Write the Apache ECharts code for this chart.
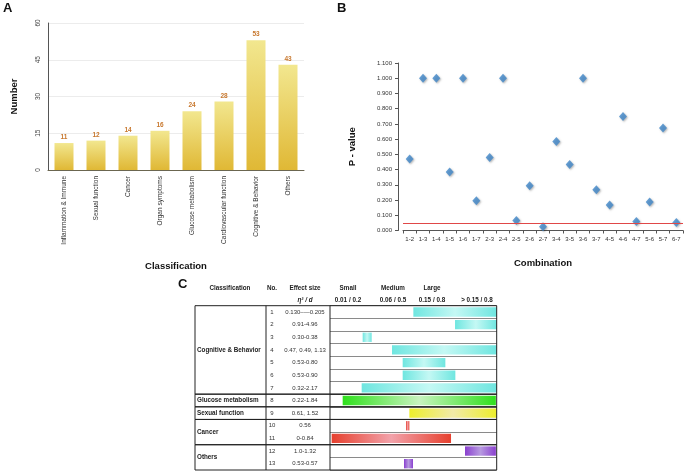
<!DOCTYPE html>
<html>
<head>
<meta charset="utf-8">
<script src="https://cdn.jsdelivr.net/npm/echarts@6/dist/echarts.min.js"></script>
<style>
  html, body { margin: 0; padding: 0; background: #fff; }
  #chart { width: 690px; height: 472px; }
</style>
</head>
<body>
<div id="chart"></div>
<script>
// A: number of studies per classification
const classNames = ["Inflammation & Immune", "Sexual function", "Cancer", "Organ symptoms",
  "Glucose metabolism", "Cardiovascular function", "Cognitive & Behavior", "Others"];
const classCounts = [11, 12, 14, 16, 24, 28, 53, 43];

// B: p-values per combination
const combos = ["1-2", "1-3", "1-4", "1-5", "1-6", "1-7", "2-3", "2-4", "2-5", "2-6", "2-7",
  "3-4", "3-5", "3-6", "3-7", "4-5", "4-6", "4-7", "5-6", "5-7", "6-7"];
const pValues = [0.47, 1.0, 1.0, 0.385, 1.0, 0.195, 0.48, 1.0, 0.066, 0.294, 0.024,
  0.585, 0.434, 1.0, 0.267, 0.167, 0.749, 0.059, 0.187, 0.673, 0.053];
const pTicks = ["0.000", "0.100", "0.200", "0.300", "0.400", "0.500", "0.600", "0.700", "0.800", "0.900", "1.000", "1.100"];

// C: effect size table
const rowNo = ["1", "2", "3", "4", "5", "6", "7", "8", "9", "10", "11", "12", "13"];
const effectSize = ["0.130–—0.205", "0.91-4.96", "0.30-0.38", "0.47, 0.49, 1.13", "0.53-0.80",
  "0.53-0.90", "0.32-2.17", "0.22-1.84", "0.61, 1.52", "0.56", "0-0.84", "1.0-1.32", "0.53-0.57"];
// bar extents on the table's effect-size scale (0..100)
const barStart = [50, 75, 19.6, 37.2, 43.6, 43.6, 19, 7.6, 47.6, 45.6, 1, 81, 44.4];
const barEnd = [100, 100, 25, 100, 69.2, 75.2, 100, 99.5, 100, 47.6, 72.6, 99.5, 49.8];
const barColor = [0, 0, 0, 0, 0, 0, 0, 1, 2, 3, 3, 4, 4];
const groupNames = ["Cognitive & Behavior", "Glucose metabolism", "Sexual function", "Cancer", "Others"];
const groupFirst = [0, 7, 8, 9, 11];
const groupLast = [6, 7, 8, 10, 12];

const palette = [
  ["#6fe6e0", "#c4f8f4"],
  ["#2fe01c", "#c8f3bf"],
  ["#ecee2c", "#f1eaa8"],
  ["#e6402e", "#f2a2aa"],
  ["#8a40cf", "#b79ae0"]
];

const FONT = "Liberation Sans, Arial, sans-serif";
const chart = echarts.init(document.getElementById("chart"));

function txt(x, y, text, size, bold, extra) {
  return Object.assign({
    type: "text", x: x, y: y,
    style: {
      text: text, fill: "#222", textAlign: "center", textVerticalAlign: "middle",
      align: "center", verticalAlign: "middle",
      font: (bold ? "bold " : "") + size + "px " + FONT
    }
  }, extra || {});
}

const option = {
  animation: false,
  textStyle: { fontFamily: FONT },
  grid: [
    { left: 48, top: 23, width: 256, height: 147 },
    { left: 403, top: 63, width: 280, height: 167.5 },
    { left: 330, top: 305.7, width: 166.7, height: 164.3 }
  ],
  xAxis: [
    {
      type: "category", gridIndex: 0, data: classNames,
      axisLine: { lineStyle: { color: "#6b6650", width: 1 } },
      axisTick: { show: false },
      axisLabel: { rotate: 90, interval: 0, fontSize: 6.5, color: "#333", margin: 6 },
      name: "Classification", nameLocation: "middle", nameGap: 91,
      nameTextStyle: { fontWeight: "bold", fontSize: 9.5, color: "#111" }
    },
    {
      type: "category", gridIndex: 1, data: combos,
      axisLine: { lineStyle: { color: "#555", width: 1 } },
      axisTick: { show: true, length: 3, lineStyle: { color: "#555" } },
      axisLabel: { interval: 0, fontSize: 6, color: "#333", margin: 6 },
      name: "Combination", nameLocation: "middle", nameGap: 28,
      nameTextStyle: { fontWeight: "bold", fontSize: 9.5, color: "#111" }
    },
    { type: "value", gridIndex: 2, min: 0, max: 100, show: false }
  ],
  yAxis: [
    {
      type: "value", gridIndex: 0, min: 0, max: 60, interval: 15,
      axisLine: { show: true, lineStyle: { color: "#555" } },
      axisTick: { show: false },
      axisLabel: { rotate: 90, fontSize: 6.5, color: "#444", margin: 6 },
      splitLine: { lineStyle: { color: "#ececec" } },
      name: "Number", nameLocation: "middle", nameGap: 29, nameRotate: 90,
      nameTextStyle: { fontWeight: "bold", fontSize: 9.5, color: "#111" }
    },
    {
      type: "value", gridIndex: 1, min: 0, max: 1.1, interval: 0.1, offset: 5,
      axisLine: { show: true, lineStyle: { color: "#555" } },
      axisTick: { show: true, length: 3, lineStyle: { color: "#555" } },
      axisLabel: { fontSize: 6, color: "#333", margin: 6,
        formatter: (v) => pTicks[Math.round(v * 10)] },
      splitLine: { show: false },
      name: "P - value", nameLocation: "middle", nameGap: 41, nameRotate: 90,
      nameTextStyle: { fontWeight: "bold", fontSize: 9.5, color: "#111" }
    },
    {
      type: "category", gridIndex: 2, data: rowNo, inverse: true, position: "left",
      axisLine: { show: false }, axisTick: { show: false },
      axisLabel: { fontSize: 6, color: "#333", margin: 58, align: "center" },
      splitLine: { show: true, lineStyle: { color: "#8a8a8a", width: 1.2 } }
    },
    {
      type: "category", gridIndex: 2, data: effectSize, inverse: true, position: "left",
      axisLine: { show: false }, axisTick: { show: false },
      axisLabel: { fontSize: 6, color: "#333", margin: 25, align: "center" },
      splitLine: { show: false }
    }
  ],
  series: [
    {
      type: "bar", xAxisIndex: 0, yAxisIndex: 0, data: classCounts, barWidth: 19,
      itemStyle: {
        color: new echarts.graphic.LinearGradient(0, 0, 0, 1, [
          { offset: 0, color: "#f2e78f" },
          { offset: 1, color: "#e0b835" }
        ])
      },
      label: { show: true, position: "top", distance: 2, fontSize: 6.5, fontWeight: "bold", color: "#c8782e" }
    },
    {
      type: "scatter", xAxisIndex: 1, yAxisIndex: 1, data: pValues,
      symbol: "diamond", symbolSize: [8, 9],
      itemStyle: { color: "#3f86c8", shadowBlur: 2, shadowOffsetX: 1, shadowOffsetY: 1, shadowColor: "rgba(0,0,0,0.35)" },
      markLine: {
        silent: true, symbol: "none", label: { show: false },
        lineStyle: { color: "#e04848", type: "solid", width: 1, opacity: 1 },
        data: [{ yAxis: 0.05 }]
      }
    },
    {
      type: "custom", xAxisIndex: 2, yAxisIndex: 2,
      data: barStart.map((s, i) => [s, barEnd[i], i, barColor[i]]),
      encode: { x: [0, 1], y: 2 },
      renderItem: function (params, api) {
        const s = api.coord([api.value(0), api.value(2)]);
        const e = api.coord([api.value(1), api.value(2)]);
        const h = api.size([0, 1])[1] * 0.74;
        const c = palette[api.value(3)];
        return {
          type: "rect",
          shape: { x: s[0], y: s[1] - h / 2, width: e[0] - s[0], height: h },
          style: {
            fill: new echarts.graphic.LinearGradient(0, 0, 1, 0, [
              { offset: 0, color: c[0] }, { offset: 0.5, color: c[1] }, { offset: 1, color: c[0] }
            ])
          }
        };
      }
    },
    {
      type: "custom", xAxisIndex: 2, yAxisIndex: 2, clip: false,
      data: groupFirst.map((f, i) => [0, f, groupLast[i]]),
      encode: { x: 0, y: [1, 2] },
      renderItem: function (params, api) {
        const band = api.size([0, 1])[1];
        const top = api.coord([0, api.value(1)])[1] - band / 2;
        const bottom = api.coord([0, api.value(2)])[1] + band / 2;
        const gl = api.coord([0, 0])[0];
        const gr = api.coord([100, 0])[0];
        const left = gl - 135;
        const line = { stroke: "#222", lineWidth: 1 };
        return {
          type: "group",
          children: [
            { type: "rect", shape: { x: left, y: top, width: gr - left, height: bottom - top },
              style: { fill: null, stroke: "#222", lineWidth: 1 } },
            { type: "line", shape: { x1: gl - 64, y1: top, x2: gl - 64, y2: bottom }, style: line },
            { type: "line", shape: { x1: gl, y1: top, x2: gl, y2: bottom }, style: line },
            { type: "text", x: left + 2, y: (top + bottom) / 2,
              style: { text: groupNames[params.dataIndex], fill: "#222",
                textAlign: "left", textVerticalAlign: "middle", align: "left", verticalAlign: "middle",
                font: "bold 6.3px " + FONT } }
          ]
        };
      }
    }
  ],
  graphic: [
    { type: "text", left: 3, top: 2, style: { text: "A", font: "bold 13px " + FONT, fill: "#111" } },
    { type: "text", left: 337, top: 2, style: { text: "B", font: "bold 13px " + FONT, fill: "#111" } },
    { type: "text", left: 178, top: 278, style: { text: "C", font: "bold 13px " + FONT, fill: "#111" } },
    txt(230, 288, "Classification", 6.3, true),
    txt(272, 288, "No.", 6.3, true),
    txt(305, 288, "Effect size", 6.3, true),
    txt(348, 288, "Small", 6.3, true),
    txt(393, 288, "Medium", 6.3, true),
    txt(432, 288, "Large", 6.3, true),
    { type: "text", x: 305, y: 300, style: { text: "η² / d", fill: "#222", textAlign: "center",
      textVerticalAlign: "middle", align: "center", verticalAlign: "middle",
      font: "italic bold 6.3px " + FONT } },
    txt(348, 300, "0.01 / 0.2", 6.3, true),
    txt(393, 300, "0.06 / 0.5", 6.3, true),
    txt(432, 300, "0.15 / 0.8", 6.3, true),
    txt(477, 300, "> 0.15 / 0.8", 6.3, true)
  ]
};

chart.setOption(option);
</script>
</body>
</html>
